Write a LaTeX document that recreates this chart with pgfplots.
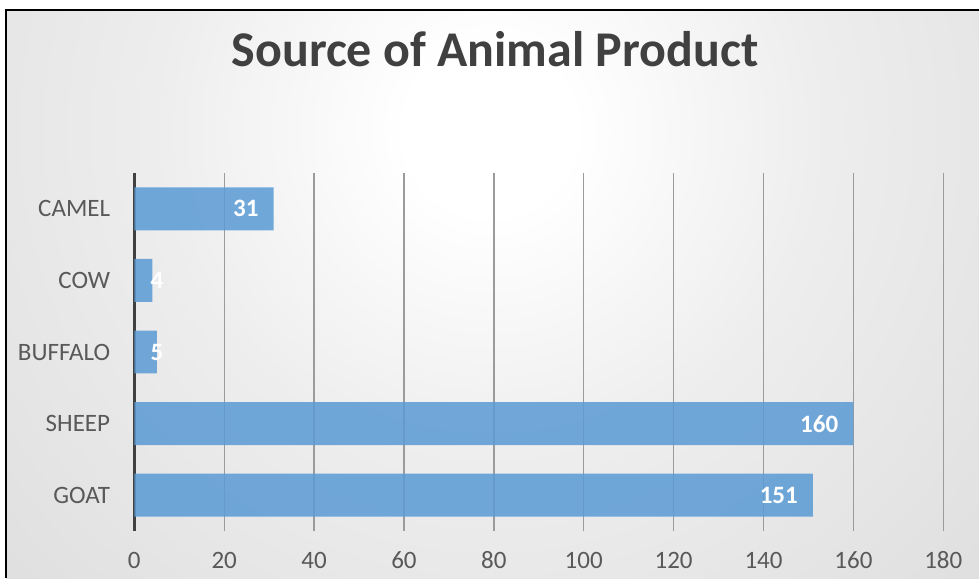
\documentclass[border=0pt]{standalone}
\usepackage{pgfplots}
\pgfplotsset{compat=1.18}
\usepackage{fontspec}
\setmainfont{Carlito}
\definecolor{barblue}{RGB}{91,155,213}
\definecolor{titlegray}{RGB}{64,64,64}
\definecolor{labelgray}{RGB}{89,89,89}
\definecolor{gridgray}{RGB}{155,155,155}
\pgfdeclareradialshading{chartbg}{\pgfpoint{0bp}{0bp}}{%
  color(0bp)=(white); color(3bp)=(white); color(12bp)=(black!7);
  color(25bp)=(black!13); color(35bp)=(black!19); color(48bp)=(black!23);
  color(50bp)=(black!23)}
\begin{document}
\begin{tikzpicture}[x=1pt,y=1pt]
  \useasboundingbox (0,0) rectangle (979,578);
  % chart area background
  \begin{scope}
    \clip (6,0) rectangle (979,568);
    \shade[shading=chartbg] (490-700,448-700) rectangle (490+700,448+700);
  \end{scope}
  \draw[black, line width=1.2pt] (6,0) -- (6,568) -- (979,568);
  \node[anchor=base, text=titlegray, font=\bfseries\fontsize{50}{60}\selectfont]
    at (495,511) {Source of Animal Product};
  \begin{axis}[
    at={(134.3pt,47pt)}, anchor=south west,
    scale only axis, width=809pt, height=358pt,
    xmin=0, xmax=180, ymin=-0.5, ymax=4.5,
    xtick={0,20,...,180}, ytick={0,1,2,3,4},
    yticklabels={GOAT,SHEEP,BUFFALO,COW,CAMEL},
    axis lines*=left,
    x axis line style={draw=none},
    y axis line style={draw=black!75, line width=2.6pt},
    major tick length=0pt,
    xmajorgrids,
    major grid style={draw=gridgray, line width=1.3pt},
    tick label style={font=\fontsize{25}{30}\selectfont, text=labelgray},
    xticklabel style={anchor=center, yshift=-29pt},
    yticklabel style={anchor=east, inner sep=0pt, xshift=-24pt},
    /pgf/number format/assume math mode=true,
    clip=false,
  ]
    % bars with values written inside their ends
    \addplot[xbar, bar width=0.6, draw=none, fill=barblue, fill opacity=0.86,
      nodes near coords, point meta=explicit symbolic,
      nodes near coords style={anchor=east, inner sep=0pt, xshift=-15pt,
        text=white, text opacity=1, font=\bfseries\fontsize{25}{30}\selectfont}]
      coordinates {(151,0)[151] (160,1)[160] (5,2)[] (4,3)[] (31,4)[31]};
    % values of the short bars, set from the base
    \addplot[draw=none, mark=none,
      nodes near coords, point meta=explicit symbolic,
      nodes near coords style={anchor=west, inner sep=0pt, xshift=16pt,
        text=white, font=\bfseries\fontsize{25}{30}\selectfont}]
      coordinates {(0,2)[5] (0,3)[4]};
  \end{axis}
\end{tikzpicture}
\end{document}
